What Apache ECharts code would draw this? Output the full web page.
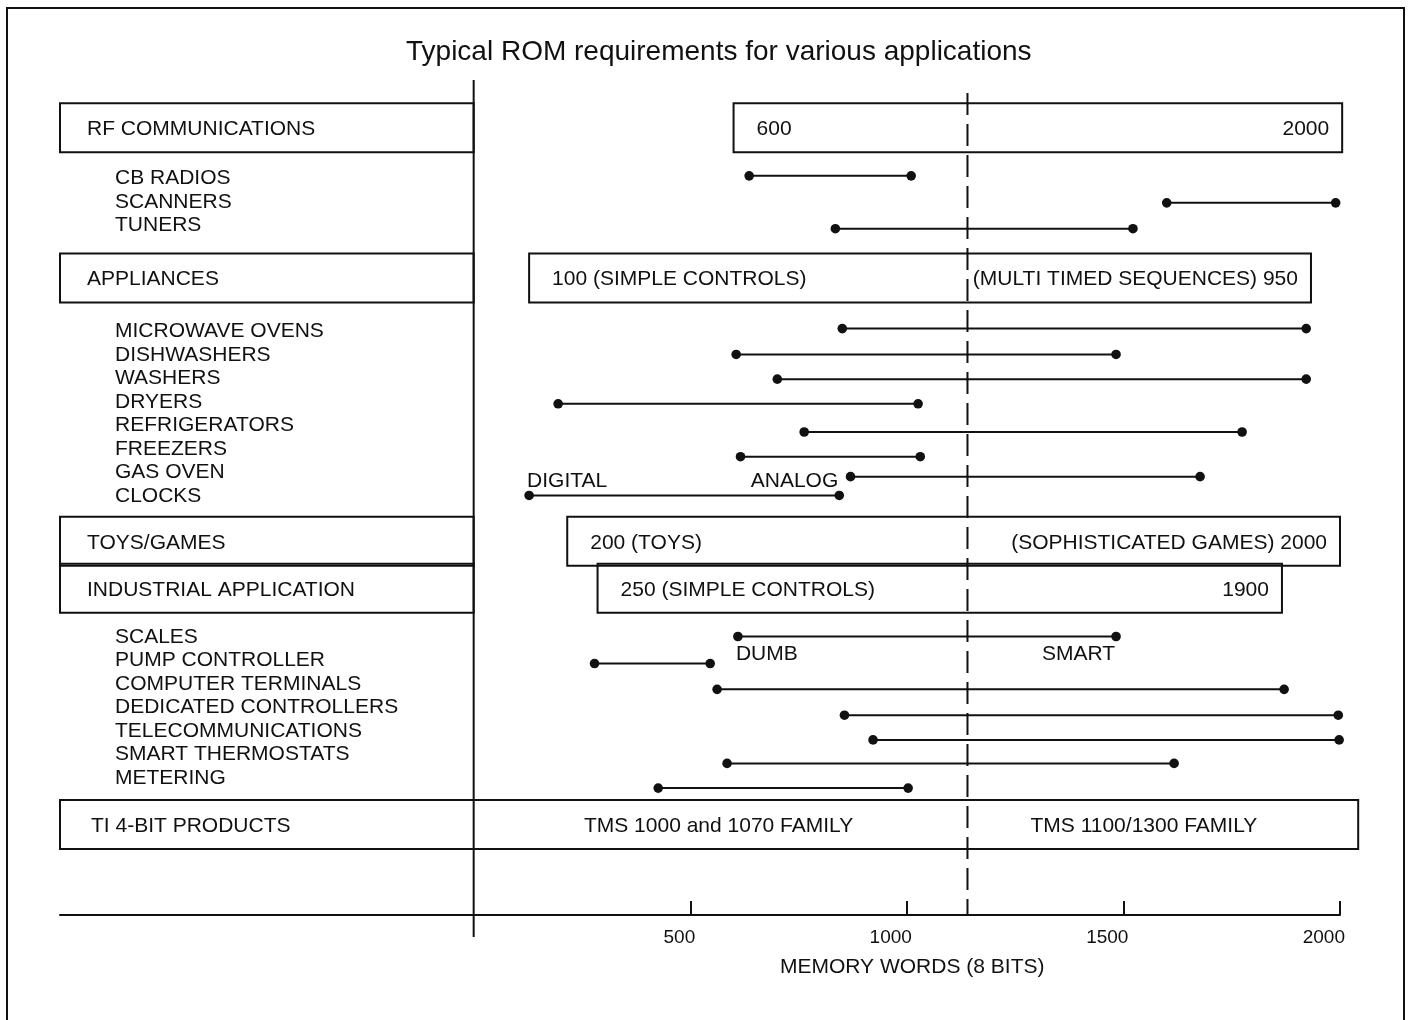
<!DOCTYPE html>
<html><head><meta charset="utf-8">
<script src="https://cdn.jsdelivr.net/npm/echarts@6/dist/echarts.min.js"></script>
<style>html,body{margin:0;padding:0;background:#fff}#c{width:1409px;height:1020px}</style>
</head><body><div id="c"></div>
<script>
// ---------- data ----------
const chartTitle = 'Typical ROM requirements for various applications';
const axisTitle = 'MEMORY WORDS (8 BITS)';
const tickValues = [500, 1000, 1500, 2000];

const groupNames = ['RF COMMUNICATIONS', 'APPLIANCES', 'TOYS/GAMES', 'INDUSTRIAL APPLICATION'];
const groupRows = [-2.1, 4.3, 15.5, 17.5];
const groupStart = [600, 128, 216, 286];
const groupEnd = [2005, 1933, 2000, 1866];
const groupLowText = ['600', '100 (SIMPLE CONTROLS)', '200 (TOYS)', '250 (SIMPLE CONTROLS)'];
const groupHighText = ['2000', '(MULTI TIMED SEQUENCES) 950', '(SOPHISTICATED GAMES) 2000', '1900'];

const itemNames = ['CB RADIOS', 'SCANNERS', 'TUNERS',
  'MICROWAVE OVENS', 'DISHWASHERS', 'WASHERS', 'DRYERS', 'REFRIGERATORS', 'FREEZERS', 'GAS OVEN', 'CLOCKS',
  'SCALES', 'PUMP CONTROLLER', 'COMPUTER TERMINALS', 'DEDICATED CONTROLLERS', 'TELECOMMUNICATIONS', 'SMART THERMOSTATS', 'METERING'];
const itemRows = [0, 1, 2, 6.5, 7.5, 8.5, 9.5, 10.5, 11.5, 12.5, 13.5, 19.5, 20.5, 21.5, 22.5, 23.5, 24.5, 25.5];
const itemLineRows = [-0.05, 1.1, 2.2, 6.45, 7.55, 8.6, 9.65, 10.85, 11.9, 12.75, 13.55, 19.55, 20.7, 21.8, 22.9, 23.95, 24.95, 26.0];
const itemMin = [636, 1600, 835, 851, 606, 701, 195, 763, 616, 870, 128, 610, 279, 562, 856, 922, 585, 426];
const itemMax = [1010, 1990, 1522, 1922, 1483, 1922, 1026, 1774, 1031, 1677, 844, 1483, 546, 1871, 1996, 1998, 1617, 1003];

const noteTexts = ['DIGITAL', 'ANALOG', 'DUMB', 'SMART'];
const noteValues = [128, 844, 610, 1483];
const noteRows = [12.9, 12.9, 20.25, 20.25];
const noteSides = ['left', 'right', 'left', 'right'];

const productName = 'TI 4-BIT PRODUCTS';
const productRow = 27.55;
const productEnd = 2042;
const familyDivide = 1140;
const familyNames = ['TMS 1000 and 1070 FAMILY', 'TMS 1100/1300 FAMILY'];

// ---------- layout / style ----------
const X_MIN = -955, X_MAX = 2000, Y_MIN = -4, Y_MAX = 31.4;
const INK = '#111';
const FONT = '"Liberation Sans", Arial, sans-serif';
const BOX_H = 49;
const TEXT_DY = 1.5;

function txt(text, x, y, align, size) {
  return { type: 'text', silent: true, style: {
    text: text, x: x, y: y + TEXT_DY, fill: INK,
    font: (size || 21) + 'px ' + FONT,
    textAlign: align || 'left', align: align || 'left',
    textVerticalAlign: 'middle', verticalAlign: 'middle'
  } };
}
function rect(x, y, w, h) {
  return { type: 'rect', shape: { x: x, y: y, width: w, height: h },
    style: { fill: 'none', stroke: INK, lineWidth: 2 } };
}

function renderGroup(params, api) {
  const i = params.dataIndex;
  const row = api.value(2);
  const pL = api.coord([X_MIN, row]);
  const x0 = api.coord([0, row])[0];
  const xs = api.coord([api.value(0), row])[0];
  const xe = api.coord([api.value(1), row])[0];
  const yc = pL[1];
  return { type: 'group', children: [
    rect(pL[0], yc - BOX_H / 2, x0 - pL[0], BOX_H),
    txt(groupNames[i], pL[0] + 27, yc),
    rect(xs, yc - BOX_H / 2, xe - xs, BOX_H),
    txt(groupLowText[i], xs + 23, yc),
    txt(groupHighText[i], xe - 13, yc, 'right')
  ] };
}

function renderItem(params, api) {
  const i = params.dataIndex;
  const pL = api.coord([X_MIN, api.value(3)]);
  const a = api.coord([api.value(0), api.value(2)]);
  const b = api.coord([api.value(1), api.value(2)]);
  return { type: 'group', children: [
    txt(itemNames[i], pL[0] + 55, pL[1]),
    { type: 'line', shape: { x1: a[0], y1: a[1], x2: b[0], y2: b[1] }, style: { stroke: INK, lineWidth: 2 } },
    { type: 'circle', shape: { cx: a[0], cy: a[1], r: 4.8 }, style: { fill: INK } },
    { type: 'circle', shape: { cx: b[0], cy: b[1], r: 4.8 }, style: { fill: INK } }
  ] };
}

function renderNote(params, api) {
  const i = params.dataIndex;
  const p = api.coord([api.value(0), api.value(1)]);
  const side = noteSides[i];
  return txt(noteTexts[i], p[0] + (side === 'left' ? -2 : -1), p[1], side);
}

function renderFrame(params, api) {
  const cs = params.coordSys;
  const p = api.coord([X_MIN, productRow]);
  const x0 = api.coord([0, productRow])[0];
  const xd = api.coord([familyDivide, productRow])[0];
  const xe = api.coord([productEnd, productRow])[0];
  const bottom = cs.y + cs.height;
  return { type: 'group', children: [
    { type: 'line', shape: { x1: x0, y1: cs.y - 3, x2: x0, y2: bottom + 22 }, style: { stroke: INK, lineWidth: 2 } },
    { type: 'line', shape: { x1: xd, y1: cs.y + 10, x2: xd, y2: bottom }, style: { stroke: INK, lineWidth: 2, lineDash: [22, 9] } },
    rect(p[0], p[1] - BOX_H / 2, xe - p[0], BOX_H),
    txt(productName, p[0] + 31, p[1]),
    txt(familyNames[0], (x0 + xd) / 2 - 2, p[1], 'center'),
    txt(familyNames[1], xd + 63, p[1])
  ] };
}

const chart = echarts.init(document.getElementById('c'), null, { renderer: 'canvas' });
chart.setOption({
  backgroundColor: '#fff',
  animation: false,
  title: { text: chartTitle, left: 401, top: 33,
    textStyle: { fontSize: 28, fontWeight: 'normal', color: INK, fontFamily: FONT } },
  graphic: [
    { type: 'rect', silent: true, shape: { x: 7, y: 8, width: 1397, height: 1040 },
      style: { fill: 'none', stroke: INK, lineWidth: 2 } },
    { type: 'text', left: 780, top: 957, silent: true,
      style: { text: axisTitle, font: '21px ' + FONT, fill: INK } }
  ],
  grid: { left: 60, right: 69, top: 83, bottom: 105, containLabel: false, outerBoundsMode: 'none' },
  xAxis: {
    type: 'value', min: X_MIN, max: X_MAX,
    splitLine: { show: false },
    axisLine: { show: true, onZero: false, lineStyle: { color: INK, width: 2 } },
    axisTick: { show: true, inside: true, length: 14, customValues: tickValues, lineStyle: { color: INK, width: 2 } },
    axisLabel: { show: true, customValues: tickValues, formatter: v => String(v),
      color: INK, fontSize: 19, fontFamily: FONT, align: 'right', margin: 13, padding: [0, -5, 0, 0] }
  },
  yAxis: { type: 'value', min: Y_MIN, max: Y_MAX, inverse: true, show: false, splitLine: { show: false } },
  series: [
    { type: 'custom', clip: false, renderItem: renderFrame, data: [[0, productRow]], encode: { x: 0, y: 1 } },
    { type: 'custom', clip: false, renderItem: renderGroup,
      data: groupRows.map((r, i) => [groupStart[i], groupEnd[i], r]), encode: { x: [0, 1], y: 2 } },
    { type: 'custom', clip: false, renderItem: renderItem,
      data: itemRows.map((r, i) => [itemMin[i], itemMax[i], itemLineRows[i], r]), encode: { x: [0, 1], y: 2 } },
    { type: 'custom', clip: false, renderItem: renderNote,
      data: noteTexts.map((t, i) => [noteValues[i], noteRows[i]]), encode: { x: 0, y: 1 } }
  ]
});
</script></body></html>
